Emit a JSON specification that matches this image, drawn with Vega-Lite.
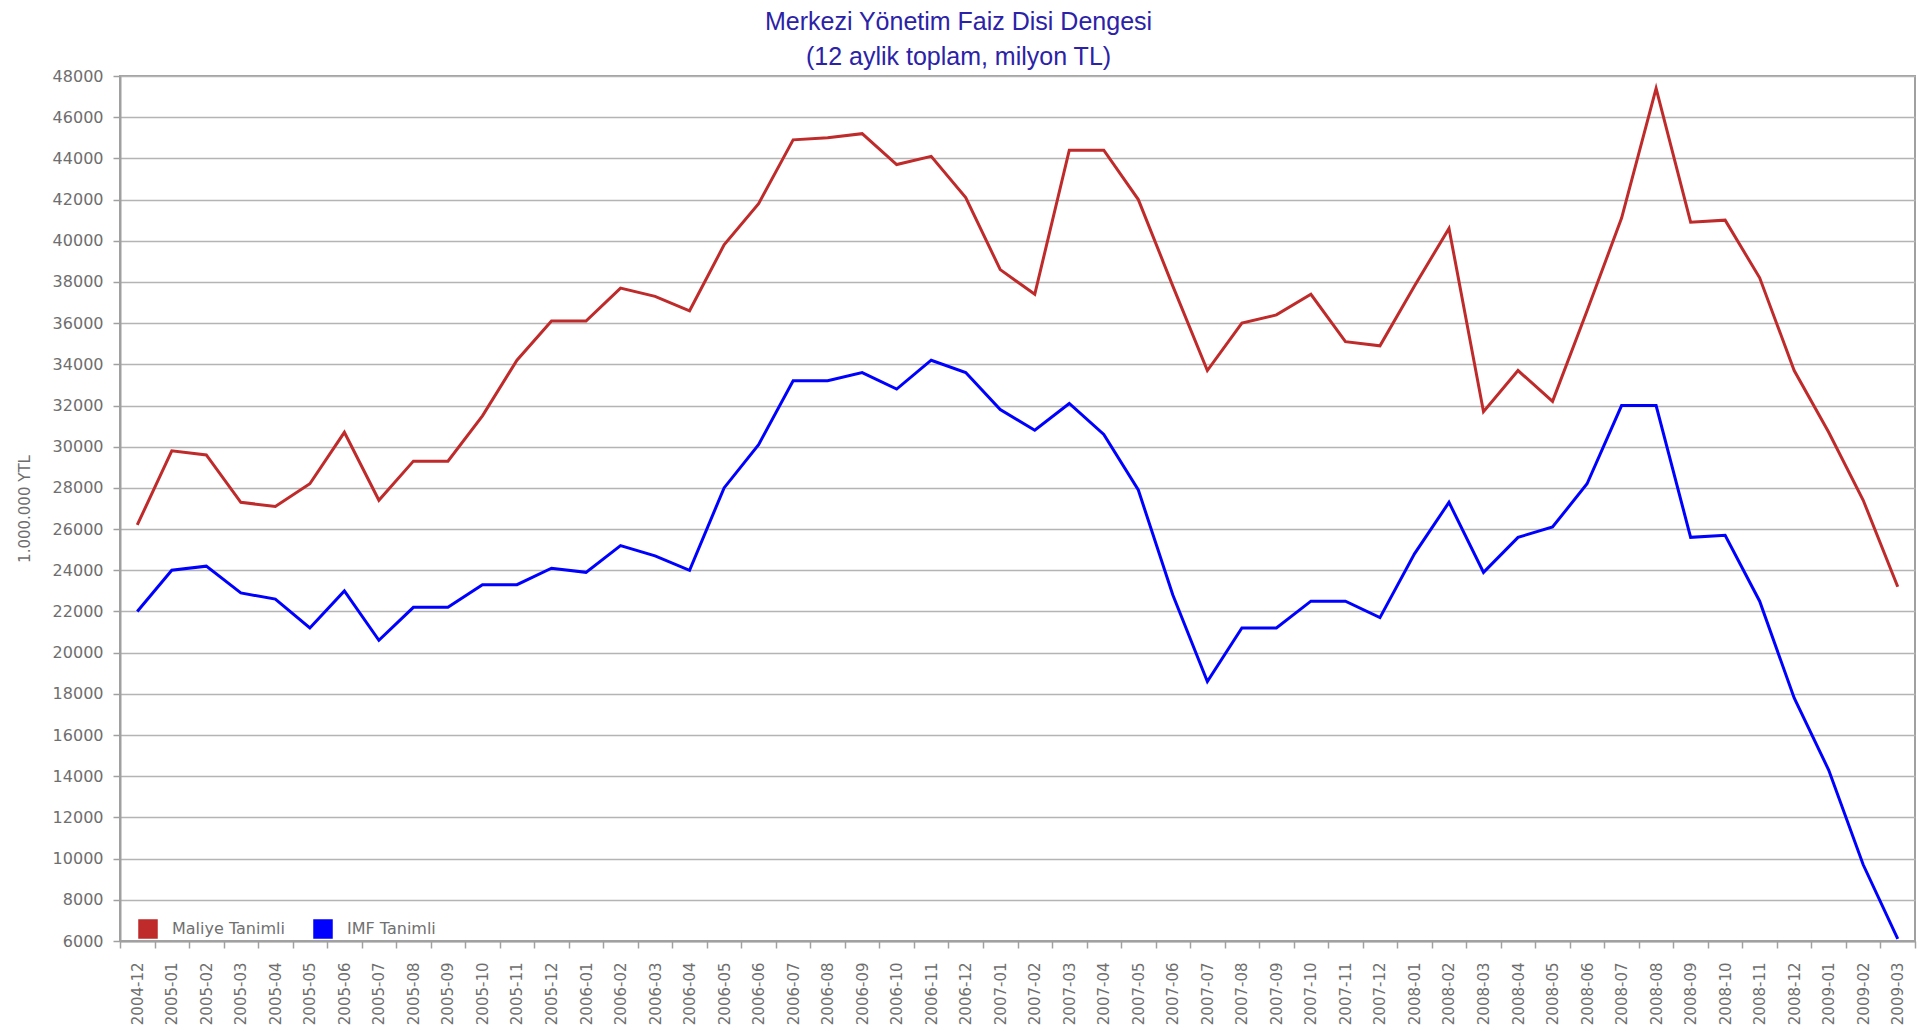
{
  "$schema": "https://vega.github.io/schema/vega-lite/v6.json",
  "width": 1795,
  "height": 865,
  "autosize": {"type": "none"},
  "padding": {"left": 120, "top": 76, "right": 10, "bottom": 90},
  "background": "#FFFFFF",
  "title": {
    "text": ["Merkezi Yönetim Faiz Disi Dengesi", "(12 aylik toplam, milyon TL)"],
    "font": "Liberation Sans",
    "fontSize": 25,
    "fontWeight": "normal",
    "color": "#2B22A8",
    "lineHeight": 35,
    "anchor": "middle",
    "dx": -59,
    "dy": 10,
    "offset": 8
  },
  "data": {
    "values": [
      {"month": "2004-12", "series": "Maliye Tanimli", "value": 26200},
      {"month": "2005-01", "series": "Maliye Tanimli", "value": 29800},
      {"month": "2005-02", "series": "Maliye Tanimli", "value": 29600},
      {"month": "2005-03", "series": "Maliye Tanimli", "value": 27300},
      {"month": "2005-04", "series": "Maliye Tanimli", "value": 27100},
      {"month": "2005-05", "series": "Maliye Tanimli", "value": 28200},
      {"month": "2005-06", "series": "Maliye Tanimli", "value": 30700},
      {"month": "2005-07", "series": "Maliye Tanimli", "value": 27400},
      {"month": "2005-08", "series": "Maliye Tanimli", "value": 29300},
      {"month": "2005-09", "series": "Maliye Tanimli", "value": 29300},
      {"month": "2005-10", "series": "Maliye Tanimli", "value": 31500},
      {"month": "2005-11", "series": "Maliye Tanimli", "value": 34200},
      {"month": "2005-12", "series": "Maliye Tanimli", "value": 36100},
      {"month": "2006-01", "series": "Maliye Tanimli", "value": 36100},
      {"month": "2006-02", "series": "Maliye Tanimli", "value": 37700},
      {"month": "2006-03", "series": "Maliye Tanimli", "value": 37300},
      {"month": "2006-04", "series": "Maliye Tanimli", "value": 36600},
      {"month": "2006-05", "series": "Maliye Tanimli", "value": 39800},
      {"month": "2006-06", "series": "Maliye Tanimli", "value": 41800},
      {"month": "2006-07", "series": "Maliye Tanimli", "value": 44900},
      {"month": "2006-08", "series": "Maliye Tanimli", "value": 45000},
      {"month": "2006-09", "series": "Maliye Tanimli", "value": 45200},
      {"month": "2006-10", "series": "Maliye Tanimli", "value": 43700},
      {"month": "2006-11", "series": "Maliye Tanimli", "value": 44100},
      {"month": "2006-12", "series": "Maliye Tanimli", "value": 42100},
      {"month": "2007-01", "series": "Maliye Tanimli", "value": 38600},
      {"month": "2007-02", "series": "Maliye Tanimli", "value": 37400},
      {"month": "2007-03", "series": "Maliye Tanimli", "value": 44400},
      {"month": "2007-04", "series": "Maliye Tanimli", "value": 44400},
      {"month": "2007-05", "series": "Maliye Tanimli", "value": 42000},
      {"month": "2007-06", "series": "Maliye Tanimli", "value": 37800},
      {"month": "2007-07", "series": "Maliye Tanimli", "value": 33700},
      {"month": "2007-08", "series": "Maliye Tanimli", "value": 36000},
      {"month": "2007-09", "series": "Maliye Tanimli", "value": 36400},
      {"month": "2007-10", "series": "Maliye Tanimli", "value": 37400},
      {"month": "2007-11", "series": "Maliye Tanimli", "value": 35100},
      {"month": "2007-12", "series": "Maliye Tanimli", "value": 34900},
      {"month": "2008-01", "series": "Maliye Tanimli", "value": 37800},
      {"month": "2008-02", "series": "Maliye Tanimli", "value": 40600},
      {"month": "2008-03", "series": "Maliye Tanimli", "value": 31700},
      {"month": "2008-04", "series": "Maliye Tanimli", "value": 33700},
      {"month": "2008-05", "series": "Maliye Tanimli", "value": 32200},
      {"month": "2008-06", "series": "Maliye Tanimli", "value": 36600},
      {"month": "2008-07", "series": "Maliye Tanimli", "value": 41100},
      {"month": "2008-08", "series": "Maliye Tanimli", "value": 47400},
      {"month": "2008-09", "series": "Maliye Tanimli", "value": 40900},
      {"month": "2008-10", "series": "Maliye Tanimli", "value": 41000},
      {"month": "2008-11", "series": "Maliye Tanimli", "value": 38200},
      {"month": "2008-12", "series": "Maliye Tanimli", "value": 33700},
      {"month": "2009-01", "series": "Maliye Tanimli", "value": 30700},
      {"month": "2009-02", "series": "Maliye Tanimli", "value": 27400},
      {"month": "2009-03", "series": "Maliye Tanimli", "value": 23200},
      {"month": "2004-12", "series": "IMF Tanimli", "value": 22000},
      {"month": "2005-01", "series": "IMF Tanimli", "value": 24000},
      {"month": "2005-02", "series": "IMF Tanimli", "value": 24200},
      {"month": "2005-03", "series": "IMF Tanimli", "value": 22900},
      {"month": "2005-04", "series": "IMF Tanimli", "value": 22600},
      {"month": "2005-05", "series": "IMF Tanimli", "value": 21200},
      {"month": "2005-06", "series": "IMF Tanimli", "value": 23000},
      {"month": "2005-07", "series": "IMF Tanimli", "value": 20600},
      {"month": "2005-08", "series": "IMF Tanimli", "value": 22200},
      {"month": "2005-09", "series": "IMF Tanimli", "value": 22200},
      {"month": "2005-10", "series": "IMF Tanimli", "value": 23300},
      {"month": "2005-11", "series": "IMF Tanimli", "value": 23300},
      {"month": "2005-12", "series": "IMF Tanimli", "value": 24100},
      {"month": "2006-01", "series": "IMF Tanimli", "value": 23900},
      {"month": "2006-02", "series": "IMF Tanimli", "value": 25200},
      {"month": "2006-03", "series": "IMF Tanimli", "value": 24700},
      {"month": "2006-04", "series": "IMF Tanimli", "value": 24000},
      {"month": "2006-05", "series": "IMF Tanimli", "value": 28000},
      {"month": "2006-06", "series": "IMF Tanimli", "value": 30100},
      {"month": "2006-07", "series": "IMF Tanimli", "value": 33200},
      {"month": "2006-08", "series": "IMF Tanimli", "value": 33200},
      {"month": "2006-09", "series": "IMF Tanimli", "value": 33600},
      {"month": "2006-10", "series": "IMF Tanimli", "value": 32800},
      {"month": "2006-11", "series": "IMF Tanimli", "value": 34200},
      {"month": "2006-12", "series": "IMF Tanimli", "value": 33600},
      {"month": "2007-01", "series": "IMF Tanimli", "value": 31800},
      {"month": "2007-02", "series": "IMF Tanimli", "value": 30800},
      {"month": "2007-03", "series": "IMF Tanimli", "value": 32100},
      {"month": "2007-04", "series": "IMF Tanimli", "value": 30600},
      {"month": "2007-05", "series": "IMF Tanimli", "value": 27900},
      {"month": "2007-06", "series": "IMF Tanimli", "value": 22800},
      {"month": "2007-07", "series": "IMF Tanimli", "value": 18600},
      {"month": "2007-08", "series": "IMF Tanimli", "value": 21200},
      {"month": "2007-09", "series": "IMF Tanimli", "value": 21200},
      {"month": "2007-10", "series": "IMF Tanimli", "value": 22500},
      {"month": "2007-11", "series": "IMF Tanimli", "value": 22500},
      {"month": "2007-12", "series": "IMF Tanimli", "value": 21700},
      {"month": "2008-01", "series": "IMF Tanimli", "value": 24800},
      {"month": "2008-02", "series": "IMF Tanimli", "value": 27300},
      {"month": "2008-03", "series": "IMF Tanimli", "value": 23900},
      {"month": "2008-04", "series": "IMF Tanimli", "value": 25600},
      {"month": "2008-05", "series": "IMF Tanimli", "value": 26100},
      {"month": "2008-06", "series": "IMF Tanimli", "value": 28200},
      {"month": "2008-07", "series": "IMF Tanimli", "value": 32000},
      {"month": "2008-08", "series": "IMF Tanimli", "value": 32000},
      {"month": "2008-09", "series": "IMF Tanimli", "value": 25600},
      {"month": "2008-10", "series": "IMF Tanimli", "value": 25700},
      {"month": "2008-11", "series": "IMF Tanimli", "value": 22500},
      {"month": "2008-12", "series": "IMF Tanimli", "value": 17800},
      {"month": "2009-01", "series": "IMF Tanimli", "value": 14300},
      {"month": "2009-02", "series": "IMF Tanimli", "value": 9700},
      {"month": "2009-03", "series": "IMF Tanimli", "value": 6100}
    ]
  },
  "mark": {"type": "line", "strokeWidth": 3},
  "encoding": {
    "x": {
      "field": "month",
      "type": "ordinal",
      "scale": {"type": "band", "paddingInner": 0, "paddingOuter": 0},
      "axis": {
        "title": null,
        "labelAngle": 270,
        "labelFont": "DejaVu Sans",
        "labelFontSize": 15,
        "labelColor": "#6E6E6E",
        "tickBand": "extent",
        "tickSize": 7,
        "tickColor": "#A0A0A0",
        "tickWidth": 1.5,
        "domainColor": "#A0A0A0",
        "domainWidth": 2,
        "labelPadding": 14,
        "grid": false
      }
    },
    "y": {
      "field": "value",
      "type": "quantitative",
      "scale": {"domain": [6000, 48000], "nice": false, "zero": false},
      "axis": {
        "title": "1.000.000 YTL",
        "values": [6000, 8000, 10000, 12000, 14000, 16000, 18000, 20000, 22000, 24000, 26000, 28000, 30000, 32000, 34000, 36000, 38000, 40000, 42000, 44000, 46000, 48000],
        "format": "d",
        "grid": true,
        "gridColor": "#B4B4B4",
        "gridWidth": 1.5,
        "tickSize": 7,
        "tickColor": "#A0A0A0",
        "tickWidth": 1.5,
        "domainColor": "#A0A0A0",
        "domainWidth": 2,
        "labelFont": "DejaVu Sans",
        "labelFontSize": 16,
        "labelColor": "#6E6E6E",
        "labelPadding": 10,
        "titleFont": "DejaVu Sans",
        "titleFontSize": 15,
        "titleFontWeight": "normal",
        "titleColor": "#6E6E6E",
        "titlePadding": 20
      }
    },
    "color": {
      "field": "series",
      "type": "nominal",
      "scale": {"domain": ["Maliye Tanimli", "IMF Tanimli"], "range": ["#BF2A2A", "#0000FF"]},
      "legend": {
        "orient": "none",
        "legendX": 18,
        "legendY": 843,
        "direction": "horizontal",
        "title": null,
        "symbolType": "square",
        "symbolSize": 324,
        "symbolStrokeWidth": 1.5,
        "symbolStrokeColor": "#000000",
        "labelFont": "DejaVu Sans",
        "labelFontSize": 16,
        "labelColor": "#707070",
        "labelOffset": 14,
        "columnPadding": 26,
        "encode": {
          "symbols": {
            "update": {
              "fill": {"scale": "color", "field": "value"},
              "stroke": {"value": "#000000"},
              "strokeWidth": {"value": 1.5},
              "opacity": {"value": 1}
            }
          }
        }
      }
    }
  },
  "config": {
    "view": {"stroke": "#A0A0A0", "strokeWidth": 2}
  }
}
